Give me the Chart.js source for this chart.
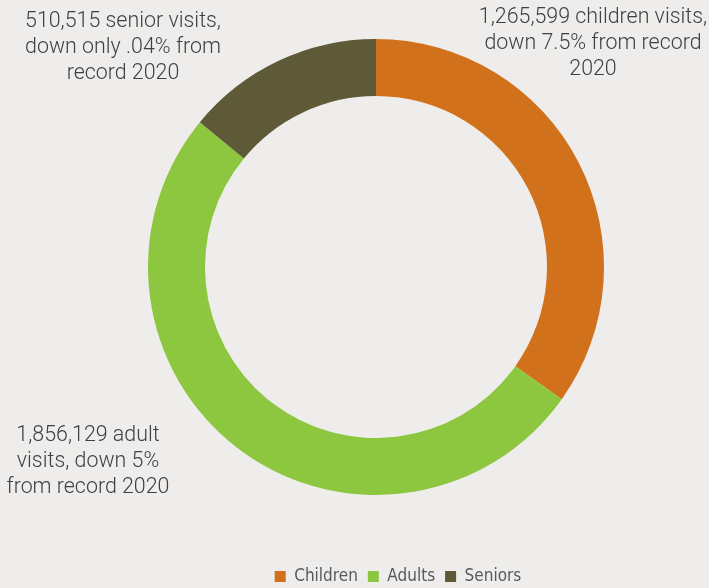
<!DOCTYPE html>
<html>
<head>
<meta charset="utf-8">
<script src="https://cdn.jsdelivr.net/npm/chart.js@4/dist/chart.umd.min.js"></script>
<style>
  html, body { margin: 0; padding: 0; background: #eeedeb; }
  #wrap { width: 709px; height: 588px; position: relative; }
</style>
</head>
<body>
<div id="wrap"><canvas id="c" width="709" height="588"></canvas></div>
<script>
const categories = ["Children", "Adults", "Seniors"];
const visits = [1265599, 1856129, 510515];
const colors = ["#d2711b", "#8dc63f", "#5e5a38"];
const annotations = [
  ["1,265,599 children visits,", "down 7.5% from record", "2020"],
  ["1,856,129 adult", "visits, down 5%", "from record 2020"],
  ["510,515 senior visits,", "down only .04% from", "record 2020"]
];
const annotationAnchors = [[593, 18], [88, 436], [123, 22]];

const labelPlugin = {
  id: 'annotations',
  afterDraw(chart) {
    const ctx = chart.ctx;
    ctx.save();
    ctx.fillStyle = '#404040';
    ctx.font = '300 21.4px Roboto, "Open Sans", sans-serif';
    ctx.textAlign = 'center';
    ctx.textBaseline = 'middle';
    annotations.forEach((lines, i) => {
      const [x, y] = annotationAnchors[i];
      lines.forEach((t, j) => ctx.fillText(t, x, y + j * 26));
    });
    ctx.restore();
  }
};

new Chart(document.getElementById('c'), {
  type: 'doughnut',
  data: {
    labels: categories,
    datasets: [{
      data: visits,
      backgroundColor: colors,
      borderWidth: 0
    }]
  },
  options: {
    responsive: false,
    animation: false,
    cutout: '75%',
    layout: { padding: { top: 0, left: 87, right: 0, bottom: 0 } },
    plugins: {
      tooltip: { enabled: false },
      title: { display: true, position: 'right', text: ' ', font: { size: 10 }, padding: { top: 93, bottom: 0 } },
      subtitle: { display: true, position: 'left', text: ' ', font: { size: 10 }, padding: { top: 49, bottom: 0 } },
      legend: {
        position: 'bottom',
        maxHeight: 54,
        title: { display: true, text: ' ', font: { size: 10 }, padding: { top: 12, bottom: 0 } },
        labels: {
          boxWidth: 11,
          boxHeight: 11,
          padding: 10,
          color: '#595959',
          font: { family: '"Liberation Sans Narrow", "DejaVu Sans Condensed", Roboto, sans-serif', size: 17 }
        }
      }
    }
  },
  plugins: [labelPlugin]
});
</script>
</body>
</html>
